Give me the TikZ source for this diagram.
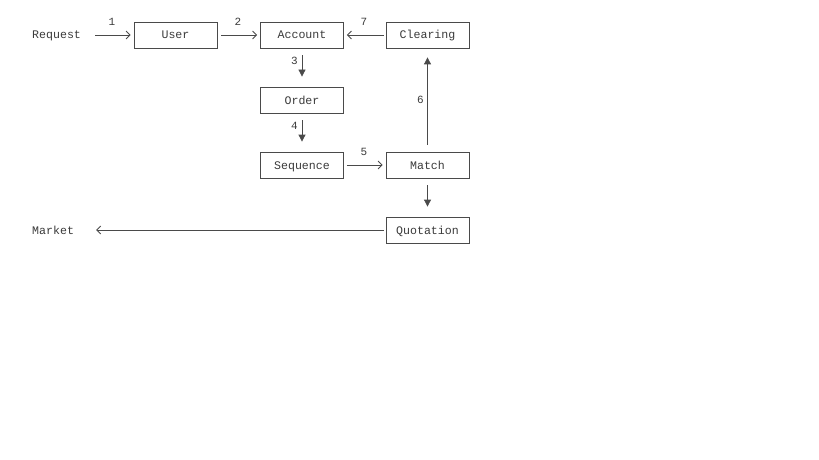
\documentclass[tikz,border=0pt]{standalone}
\usepackage{fontspec}
\setmainfont{Liberation Mono}
\usetikzlibrary{arrows.meta}
\definecolor{txt}{HTML}{3A3A3A}
\definecolor{ln}{HTML}{4A4A4A}
\tikzset{
  box/.style={draw=ln, line width=0.8pt, minimum width=83pt, minimum height=26pt, inner sep=0pt, text height=8pt, text depth=0pt, text=txt, font=\fontsize{11.6}{13}\selectfont},
  plain/.style={inner sep=0pt, text height=8pt, text depth=0pt, text=txt, font=\fontsize{11.6}{13}\selectfont},
  lbl/.style={inner sep=0pt, text=txt, font=\fontsize{11}{12}\selectfont},
  open/.style={draw=ln, line width=0.8pt, -{Straight Barb[length=4pt,width=8pt]}},
  solid/.style={draw=ln, line width=0.8pt, -{Triangle[length=7pt,width=7pt]}},
}
\begin{document}
\begin{tikzpicture}[x=1pt,y=-1pt]
\useasboundingbox (0,0) rectangle (819,460);
\node[box] (user) at (175.5,35) {User};
\node[box] (account) at (302,35) {Account};
\node[box] (clearing) at (427.5,35) {Clearing};
\node[box] (order) at (302,100) {Order};
\node[box] (sequence) at (302,165) {Sequence};
\node[box] (match) at (427.5,165) {Match};
\node[box] (quotation) at (427.5,230) {Quotation};
\node[plain, anchor=west] (request) at (32,35) {Request};
\node[plain, anchor=west] (market) at (32,230) {Market};

\draw[open, shorten <=14pt, shorten >=3pt] (request.east) -- (user.west);
\node[lbl] (l1) at (112,22) {1};
\draw[open, shorten <=4pt, shorten >=3pt] (user) -- (account);
\node[lbl] (l2) at (238,22) {2};
\draw[open, shorten <=2pt, shorten >=3pt] (clearing) -- (account);
\node[lbl] (l7) at (364,22) {7};
\draw[solid, shorten <=7pt, shorten >=10pt] (account) -- (order);
\node[lbl] (l3) at (294.5,61) {3};
\draw[solid, shorten <=7pt, shorten >=10pt] (order) -- (sequence);
\node[lbl] (l4) at (294.5,126) {4};
\draw[open, shorten <=3pt, shorten >=3pt] (sequence) -- (match);
\node[lbl] (l5) at (364,152) {5};
\draw[solid, shorten <=7pt, shorten >=9pt] (match) -- (clearing);
\node[lbl] (l6) at (420.5,100) {6};
\draw[solid, shorten <=7pt, shorten >=10pt] (match) -- (quotation);
\draw[open, shorten <=2pt, shorten >=22pt] (quotation.west) -- (market.east);
\end{tikzpicture}
\end{document}
